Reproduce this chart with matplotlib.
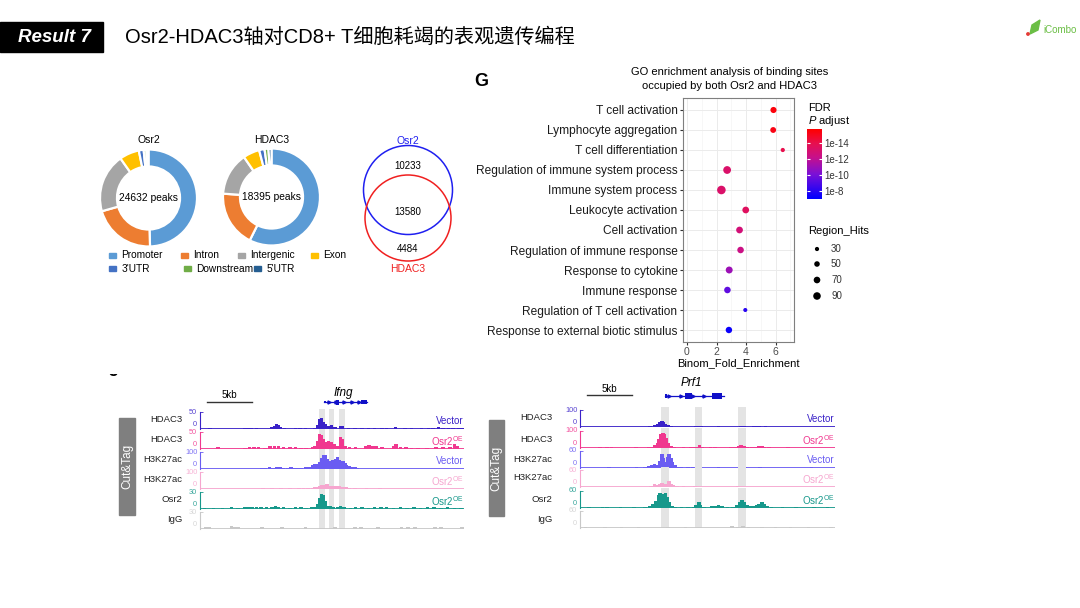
import numpy as np
import matplotlib
matplotlib.use('Agg')
import matplotlib.pyplot as plt
from matplotlib.patches import Rectangle, Circle, Polygon
from matplotlib.colors import LinearSegmentedColormap, Normalize

plt.rcParams['font.family'] = ['Liberation Sans', 'Noto Sans CJK SC', 'DejaVu Sans']
plt.rcParams['mathtext.fontset'] = 'custom'
plt.rcParams['mathtext.rm'] = 'Liberation Sans'
plt.rcParams['mathtext.it'] = 'Liberation Sans:italic'

# ---------------- data ----------------
title_text = 'Osr2-HDAC3轴对CD8+ T细胞耗竭的表观遗传编程'
result_label = 'Result 7'

segments = ['Promoter', 'Intron', 'Intergenic', 'Exon', "3'UTR", 'Downstream', "5'UTR"]
osr2_pct = [49.5, 21.1, 19.6, 6.6, 1.6, 0.9, 0.7]
hdac3_pct = [57.4, 18.7, 14.3, 5.5, 1.8, 1.3, 1.0]
osr2_peaks = '24632 peaks'
hdac3_peaks = '18395 peaks'
seg_colors = ['#5B9BD5', '#ED7D31', '#A5A5A5', '#FFC000', '#4472C4', '#70AD47', '#255E91']

venn_only_osr2 = '10233'
venn_both = '13580'
venn_only_hdac3 = '4484'

go_terms = ['T cell activation', 'Lymphocyte aggregation', 'T cell differentiation',
            'Regulation of immune system process', 'Immune system process',
            'Leukocyte activation', 'Cell activation', 'Regulation of immune response',
            'Response to cytokine', 'Immune response', 'Regulation of T cell activation',
            'Response to external biotic stimulus']
go_fold = [5.86, 5.84, 6.49, 2.72, 2.33, 3.98, 3.56, 3.63, 2.86, 2.74, 3.95, 2.84]
go_hits = [60, 55, 30, 95, 115, 72, 72, 68, 76, 68, 28, 66]
go_neglog_fdr = [15.5, 15.3, 14.0, 13.2, 13.2, 13.5, 12.8, 12.4, 11.0, 9.4, 8.0, 7.3]
fdr_ticks = [8, 10, 12, 14]
fdr_tick_labels = ['1e-8', '1e-10', '1e-12', '1e-14']
hits_legend = [30, 50, 70, 90]

track_names = ['HDAC3', 'HDAC3', 'H3K27ac', 'H3K27ac', 'Osr2', 'IgG']
track_conds = ['Vector', 'Osr2$^{\\mathrm{OE}}$', 'Vector', 'Osr2$^{\\mathrm{OE}}$', 'Osr2$^{\\mathrm{OE}}$', '']

# Ifng locus (kb, height)
ifng_ymax = [50, 50, 100, 100, 30, 30]
ifng_tracks = [
    [(1.1, 3), (5.0, 3), (5.4, 3), (5.7, 2), (6.3, 3), (8.0, 6), (8.3, 10), (8.5, 15), (8.7, 12), (8.9, 6),
     (9.4, 2), (10.6, 3), (11.1, 4), (11.7, 3), (12.8, 4), (13.1, 12), (13.3, 28), (13.5, 32), (13.7, 22),
     (13.9, 15), (14.1, 10), (14.3, 8), (14.6, 12), (15.0, 6), (15.6, 10), (15.8, 8), (16.5, 3), (17.2, 3),
     (18.0, 2), (18.7, 4), (19.4, 3), (20.2, 3), (20.7, 2), (21.7, 5), (22.8, 2), (23.5, 2), (24.6, 2),
     (25.4, 3), (25.9, 4), (26.5, 5), (27.0, 3), (27.6, 4), (28.1, 3), (28.7, 2), (29.1, 2)],
    [(2.0, 5), (5.0, 4), (5.5, 6), (6.0, 5), (6.5, 6), (7.2, 4), (7.8, 8), (8.3, 10), (8.7, 8), (9.3, 6),
     (10.0, 5), (10.6, 6), (11.2, 4), (11.8, 3), (12.5, 6), (12.8, 10), (13.1, 25), (13.3, 45), (13.5, 40),
     (13.7, 30), (13.9, 20), (14.1, 18), (14.3, 25), (14.6, 20), (14.9, 15), (15.3, 10), (15.6, 35),
     (15.8, 28), (16.1, 8), (16.6, 5), (17.3, 6), (18.4, 10), (18.8, 12), (19.2, 10), (19.6, 8), (20.2, 6),
     (21.5, 8), (21.8, 15), (22.3, 6), (22.9, 5), (23.5, 4), (24.2, 3), (25.2, 3), (26.2, 6), (27.0, 5),
     (27.8, 5), (28.3, 15), (28.6, 10)],
    [(6.9, 6), (7.3, 8), (7.7, 10), (8.1, 8), (8.5, 12), (8.9, 10), (9.3, 8), (9.7, 6), (10.1, 10), (10.5, 8),
     (10.9, 6), (11.3, 8), (11.8, 10), (12.2, 14), (12.5, 24), (12.8, 30), (13.1, 28), (13.3, 40), (13.5, 65),
     (13.7, 85), (13.9, 80), (14.1, 60), (14.3, 45), (14.5, 50), (14.7, 55), (14.9, 40), (15.1, 60),
     (15.3, 70), (15.5, 55), (15.7, 40), (15.9, 45), (16.1, 35), (16.3, 25), (16.6, 15), (16.9, 12),
     (17.2, 10), (17.5, 6)],
    [(7.0, 3), (8.0, 4), (9.0, 3), (10.0, 4), (11.0, 5), (11.5, 4), (12.0, 6), (12.5, 8), (12.8, 10),
     (13.1, 14), (13.3, 20), (13.5, 25), (13.7, 18), (13.9, 22), (14.1, 28), (14.3, 20), (14.5, 15),
     (14.7, 18), (14.9, 16), (15.1, 14), (15.3, 18), (15.5, 15), (15.7, 12), (15.9, 14), (16.2, 10),
     (16.6, 6), (17.2, 4), (18.5, 3), (20.0, 3), (22.0, 2)],
    [(0.5, 2), (1.5, 2), (2.5, 2), (3.5, 3), (4.2, 2), (5.0, 3), (5.4, 4), (5.8, 3), (6.3, 4), (6.8, 3),
     (7.4, 3), (8.0, 4), (8.4, 5), (8.7, 4), (9.3, 3), (10.0, 2), (10.6, 4), (11.2, 3), (11.8, 2), (12.4, 3),
     (12.8, 4), (13.1, 8), (13.3, 20), (13.5, 26), (13.7, 24), (13.9, 15), (14.1, 5), (14.5, 6), (14.8, 4),
     (15.3, 3), (15.6, 6), (16.0, 3), (16.7, 2), (17.3, 3), (18.0, 3), (18.7, 2), (19.4, 3), (20.1, 4),
     (20.7, 3), (21.5, 2), (22.3, 3), (23.0, 2), (23.8, 3), (24.5, 2), (25.3, 3), (26.0, 3), (26.8, 2),
     (27.5, 3), (28.3, 2), (29.0, 2)],
    [(0.6, 3), (1.0, 4), (3.5, 5), (3.9, 4), (4.2, 4), (6.9, 4), (9.1, 3), (11.7, 4), (15.0, 3), (17.2, 4),
     (17.9, 3), (19.8, 3), (22.4, 4), (23.1, 3), (23.9, 4), (26.1, 3), (26.8, 4), (29.1, 4)],
]
ifng_bands = [(13.2, 13.9), (14.3, 14.9), (15.4, 16.1)]
ifng_gene = (13.8, 18.6)
ifng_exons = [(13.8, 14.0, 0.5), (15.1, 15.4, 1.0), (17.9, 18.6, 0.8)]

# Prf1 locus
prf1_ymax = [100, 100, 60, 60, 60, 60]
prf1_tracks = [
    [(4.1, 2), (7.8, 5), (8.3, 10), (8.6, 20), (8.9, 30), (9.1, 35), (9.3, 30), (9.5, 20), (9.8, 10),
     (10.1, 4), (12.9, 5), (13.2, 6), (13.5, 3), (15.4, 3), (16.0, 2), (17.9, 6), (18.2, 8), (19.3, 6),
     (19.6, 8), (19.9, 5), (20.6, 3), (28.0, 2)],
    [(2.2, 4), (3.0, 3), (3.5, 3), (6.2, 3), (7.6, 4), (8.0, 8), (8.3, 15), (8.6, 30), (8.8, 55), (9.0, 80),
     (9.2, 88), (9.4, 85), (9.6, 60), (9.8, 30), (10.1, 10), (10.5, 5), (11.5, 4), (12.3, 5), (12.6, 6),
     (13.0, 8), (13.3, 15), (13.6, 8), (14.5, 3), (15.0, 3), (16.8, 4), (17.2, 6), (17.6, 12), (17.9, 15),
     (18.2, 10), (18.6, 5), (19.1, 6), (19.5, 8), (19.9, 10), (20.2, 14), (20.5, 8), (21.0, 3), (23.1, 3),
     (26.0, 2)],
    [(3.2, 2), (6.3, 2), (7.2, 4), (7.6, 6), (8.0, 10), (8.3, 14), (8.6, 12), (8.9, 25), (9.1, 50), (9.3, 35),
     (9.5, 20), (9.7, 40), (9.9, 50), (10.1, 35), (10.3, 20), (10.6, 10), (10.9, 5), (11.3, 4), (12.0, 3),
     (12.5, 5), (13.0, 3), (15.4, 2), (18.4, 2), (20.0, 2), (25.7, 2)],
    [(7.9, 5), (8.3, 12), (8.6, 8), (8.9, 10), (9.1, 15), (9.3, 10), (9.6, 12), (9.9, 20), (10.1, 12),
     (10.4, 6), (10.8, 4), (11.5, 3), (12.8, 3), (17.5, 2)],
    [(1.0, 2), (2.5, 3), (3.0, 3), (4.5, 2), (6.0, 3), (7.2, 4), (7.8, 8), (8.1, 15), (8.4, 25), (8.7, 45),
     (8.9, 52), (9.1, 40), (9.3, 48), (9.5, 52), (9.7, 40), (9.9, 20), (10.2, 8), (10.6, 4), (11.3, 3),
     (12.0, 3), (12.6, 5), (12.9, 12), (13.2, 22), (13.4, 12), (13.8, 4), (14.6, 6), (15.0, 8), (15.4, 9),
     (15.8, 6), (16.4, 3), (17.0, 5), (17.4, 12), (17.7, 20), (18.0, 30), (18.3, 22), (18.6, 10), (19.0, 6),
     (19.3, 8), (19.6, 12), (19.9, 15), (20.2, 20), (20.5, 15), (20.8, 6), (21.3, 3), (22.5, 2), (24.0, 2),
     (26.0, 2), (27.5, 2)],
    [(0.6, 3), (2.8, 3), (4.6, 4), (6.5, 3), (9.8, 5), (11.7, 3), (16.9, 8), (17.5, 4), (18.1, 6), (18.7, 3),
     (20.2, 4), (21.7, 3), (23.4, 3), (25.4, 3), (27.9, 4)],
]
prf1_bands = [(9.0, 9.9), (12.8, 13.6), (17.5, 18.4)]
prf1_gene = (9.4, 16.0)
prf1_exons = [(9.4, 9.7, 0.6), (11.7, 12.4, 1.0), (14.7, 15.8, 1.0)]

# ---------------- figure ----------------
W, H = 1080, 608
fig = plt.figure(figsize=(10.8, 6.08), dpi=100)
fig.patch.set_facecolor('white')


def axes_px(x0, y0, x1, y1):
    a = fig.add_axes([x0 / W, 1 - y1 / H, (x1 - x0) / W, (y1 - y0) / H])
    a.patch.set_alpha(0)
    return a


ov = fig.add_axes([0, 0, 1, 1])
ov.set_xlim(0, W)
ov.set_ylim(H, 0)
ov.axis('off')

# header
ov.add_patch(Rectangle((0, 22), 103, 30, color='black'))
ov.text(54, 37.5, result_label, color='white', fontsize=13.5, fontweight='bold', fontstyle='italic',
        ha='center', va='center')
ov.text(125, 37, title_text, fontsize=14.5, ha='left', va='center', color='black')
# logo
ov.add_patch(Polygon([(1030, 34), (1032, 25), (1040, 20), (1038, 30)], closed=True, color='#6BBE45'))
ov.add_patch(Circle((1028, 34), 1.2, color='#E53935'))
ov.text(1043, 30, 'iCombo', color='#6BBE45', fontsize=7, ha='left', va='center')

# ---------------- donuts ----------------
def donut(cx, cy, r, vals, center_text, name):
    a = axes_px(cx - r, cy - r, cx + r, cy + r)
    a.pie(vals, colors=seg_colors, startangle=90, counterclock=False,
          wedgeprops=dict(width=0.35, edgecolor='white', linewidth=1.6))
    a.set_xlim(-1, 1)
    a.set_ylim(-1, 1)
    a.set_aspect('equal')
    a.axis('off')
    ov.text(cx, cy, center_text, fontsize=7.4, ha='center', va='center')
    ov.text(cx, 140, name, fontsize=7.5, ha='center', va='center')

donut(148.5, 198, 48.5, osr2_pct, osr2_peaks, 'Osr2')
donut(271.5, 197, 48.5, hdac3_pct, hdac3_peaks, 'HDAC3')

leg_pos = [(112, 255), (184, 255), (241, 255), (314, 255), (112, 268.5), (187, 268.5), (257, 268.5)]
for (x, y), s, c in zip(leg_pos, segments, seg_colors):
    ov.add_patch(Rectangle((x - 3.5, y - 2.5), 7, 5, color=c))
    ov.text(x + 9.5, y, s, fontsize=7.3, ha='left', va='center')

# ---------------- venn ----------------
ov.add_patch(Circle((408, 190), 44.5, fill=False, ec='#1F1FF0', lw=1.1))
ov.add_patch(Circle((408, 218), 43, fill=False, ec='#F02020', lw=1.1))
ov.text(408, 141, 'Osr2', color='#1F1FF0', fontsize=7.5, ha='center', va='center')
ov.text(408, 269, 'HDAC3', color='#F02020', fontsize=7.5, ha='center', va='center')
ov.text(408, 166, venn_only_osr2, fontsize=7, ha='center', va='center')
ov.text(408, 212, venn_both, fontsize=7, ha='center', va='center')
ov.text(408, 249, venn_only_hdac3, fontsize=7, ha='center', va='center')

# ---------------- GO dot plot ----------------
ov.text(481, 82, 'G', fontsize=13, fontweight='bold', ha='center', va='center')
ov.text(730, 72, 'GO enrichment analysis of binding sites', fontsize=8, ha='center', va='center')
ov.text(730, 86, 'occupied by both Osr2 and HDAC3', fontsize=8, ha='center', va='center')

cmap = LinearSegmentedColormap.from_list('fdr', [(0, '#0000FF'), (0.35, '#7A10D8'), (0.6, '#C8108A'),
                                                 (0.8, '#E8104E'), (1, '#FF0000')])
norm = Normalize(7.0, 15.75)


def size_of(h):
    return 0.34 * np.asarray(h, dtype=float) - 1.0


gax = axes_px(683, 98, 794, 342)
gax.patch.set_alpha(1)
gax.patch.set_facecolor('white')
ypos = np.arange(len(go_terms))[::-1] + 1
gax.set_xlim(-0.27, 7.25)
gax.set_ylim(0.4, len(go_terms) + 0.6)
gax.set_xticks([0, 2, 4, 6])
gax.set_xticks([1, 3, 5, 7], minor=True)
gax.set_yticks(ypos)
gax.set_yticklabels(go_terms, fontsize=8.6, color='#1A1A1A')
gax.tick_params(axis='x', labelsize=7.5, labelcolor='#4D4D4D', length=2.5, color='#333333', pad=1)
gax.tick_params(axis='y', length=2.5, color='#333333', pad=1.5)
gax.tick_params(which='minor', length=0)
gax.grid(True, which='major', color='#EBEBEB', lw=0.7)
gax.grid(True, which='minor', axis='x', color='#F2F2F2', lw=0.4)
gax.set_axisbelow(True)
for sp in gax.spines.values():
    sp.set_color('#7F7F7F')
    sp.set_linewidth(0.8)
gax.scatter(go_fold, ypos, s=size_of(go_hits), c=go_neglog_fdr, cmap=cmap, norm=norm, zorder=3,
            linewidths=0)
gax.set_xlabel('Binom_Fold_Enrichment', fontsize=8, labelpad=1)

# colour bar
cax = axes_px(807, 129, 822, 199)
grad = np.linspace(7.0, 15.75, 200).reshape(-1, 1)
cax.imshow(grad, extent=[0, 1, 7.0, 15.75], origin='lower', aspect='auto', cmap=cmap, norm=norm)
cax.set_xlim(0, 1)
cax.set_ylim(7.0, 15.75)
cax.set_xticks([])
cax.yaxis.tick_right()
cax.set_yticks(fdr_ticks)
cax.set_yticklabels(fdr_tick_labels, fontsize=7, color='#333333')
cax.tick_params(axis='y', length=0, pad=2)
cax.hlines(fdr_ticks, 0, 0.2, color='white', lw=0.8)
cax.hlines(fdr_ticks, 0.8, 1, color='white', lw=0.8)
for sp in cax.spines.values():
    sp.set_visible(False)
ov.text(808, 108, 'FDR', fontsize=8, ha='left', va='center')
ov.text(808, 121, '$P$ adjust', fontsize=8, ha='left', va='center')

# size legend
ov.text(808, 231, 'Region_Hits', fontsize=8, ha='left', va='center')
leg_y = [249, 264, 280, 296]
ov.scatter([817] * len(hits_legend), leg_y, s=size_of(hits_legend), color='black', linewidths=0)
for h, y in zip(hits_legend, leg_y):
    ov.text(831, y, str(h), fontsize=7, ha='left', va='center', color='#333333')

# ---------------- genome tracks ----------------
track_colors = ['#3A22C8', '#F0388F', '#6A5CF2', '#F6A6CF', '#17988B', '#C8C8C8']
label_colors = ['#3A22C8', '#F0388F', '#6A5CF2', '#F6A6CF', '#17988B', '#333333']

# partial "J" (cut off at the top, as in the slide)
jax = axes_px(104, 374, 126, 382)
jax.axis('off')
jax.set_xlim(0, 1)
jax.set_ylim(0, 1)
jax.text(0.45, 1.25, 'J', fontsize=13, fontweight='bold', ha='center', va='center', clip_on=True)


def draw_panel(x0, x1, span, baselines, tracks, ymaxes, bands, gene, exons, gene_name,
               gene_top, gene_y, bar_y, txt_y, name_y, label_x, box):
    # cut&tag box
    bx0, by0, bx1, by1 = box
    ov.add_patch(Rectangle((bx0, by0), bx1 - bx0, by1 - by0, color='#7F7F7F'))
    ov.text((bx0 + bx1) / 2, (by0 + by1) / 2, 'Cut&Tag', rotation=90, color='white', fontsize=8.5,
            ha='center', va='center')
    # gene / scale axis
    ga = axes_px(x0, gene_top, x1, 408)
    ga.set_xlim(0, span)
    ga.set_ylim(0, 1)
    ga.axis('off')
    ga.plot([0.8, 5.8], [bar_y, bar_y], color='#333333', lw=1)
    ga.text(3.3, txt_y, '5kb', fontsize=7, ha='center', va='center')
    ga.plot(gene, [gene_y, gene_y], color='#1010C8', lw=0.9)
    for (e0, e1, hh) in exons:
        ga.add_patch(Rectangle((e0, gene_y - 0.09 * hh), e1 - e0, 0.18 * hh, color='#1010C8', lw=0))
    arrows = np.linspace(gene[0] + 0.5, gene[1] - 0.9, 5)
    ga.plot(arrows, [gene_y] * len(arrows), ls='none', marker='>', ms=2.2, color='#1010C8')
    ga.text(np.mean(gene) - 0.3, name_y, gene_name, fontsize=8.5, fontstyle='italic', ha='center',
            va='center')
    for i, b in enumerate(baselines):
        ax = axes_px(x0, b - 20, x1, b)
        ymax = ymaxes[i]
        ax.set_xlim(0, span)
        ax.set_ylim(0, ymax * 20 / 17)
        for (b0, b1) in bands:
            ax.axvspan(b0, b1, color='#E4E4E4', lw=0, zorder=0)
        xs = [p[0] for p in tracks[i]]
        hs = [p[1] for p in tracks[i]]
        ax.bar(xs, hs, width=0.38, color=track_colors[i], lw=0, zorder=2)
        ax.axhline(0, color=track_colors[i], lw=1.3, zorder=3)
        for k in ['top', 'right', 'bottom']:
            ax.spines[k].set_visible(False)
        ax.spines['left'].set_color(track_colors[i])
        ax.spines['left'].set_linewidth(0.8)
        ax.spines['left'].set_bounds(0, ymax)
        ax.set_xticks([])
        ax.set_yticks([ymax])
        ax.set_yticklabels([''])
        ax.tick_params(axis='y', direction='in', length=2, width=0.6, color=track_colors[i])
        tcol = track_colors[i] if i < 5 else '#D0D0D0'
        ax.text(-0.3, ymax, str(ymax), fontsize=5.3, color=tcol, ha='right', va='center', alpha=0.85)
        ax.text(-0.3, ymax * 0.27, '0', fontsize=5.3, color=tcol, ha='right', va='center', alpha=0.85)
        ov.text(label_x, b - 9, track_names[i], fontsize=6.8, ha='right', va='center', color='#222222')
        if track_conds[i]:
            ov.text(x1, b - 8, track_conds[i], fontsize=7, ha='right', va='center', color=label_colors[i])


draw_panel(200, 464, 264 / 9, [429, 449, 469, 489, 509, 529], ifng_tracks, ifng_ymax, ifng_bands,
           ifng_gene, ifng_exons, 'Ifng', 380, 0.21, 0.21, 0.46, 0.55, 182, (119, 418, 135, 515))
draw_panel(580, 835, 255 / 9, [427, 448, 468, 487, 508, 528], prf1_tracks, prf1_ymax, prf1_bands,
           prf1_gene, prf1_exons, 'Prf1', 375, 0.36, 0.39, 0.58, 0.76, 552, (489, 420, 504, 516))

fig.savefig('out.png', dpi=100, facecolor='white')
